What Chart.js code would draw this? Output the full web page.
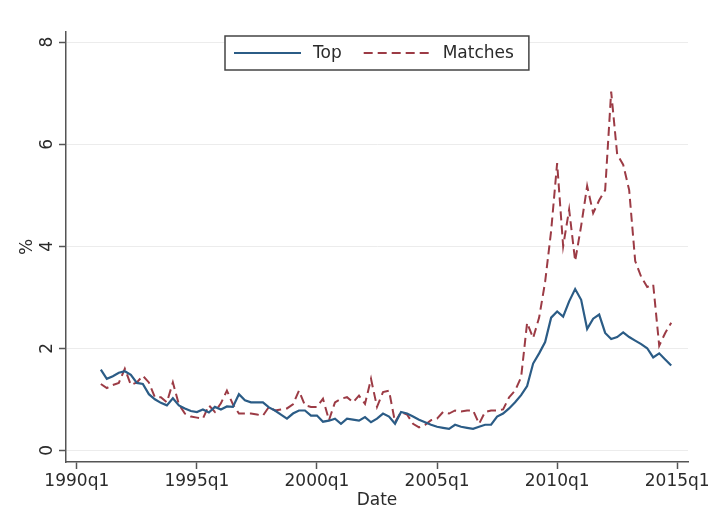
<!DOCTYPE html>
<html>
<head>
<meta charset="utf-8">
<script src="https://cdn.jsdelivr.net/npm/chart.js@4.4.1/dist/chart.umd.min.js"></script>
<style>
    html, body { margin: 0; padding: 0; background: #fff; }
    #wrap { width: 712px; height: 511px; }
</style>
</head>
<body>
<div id="wrap"><canvas id="chart" width="712" height="511"></canvas></div>
<script>
// Quarter index: 0 = 1990q1, series start at 1991q1
const firstQuarter = 4;

// Share (%) per quarter, 1991q1 .. 2014q4
const topShare = [
    1.58, 1.40, 1.45, 1.52,   // 1991
    1.55, 1.48, 1.32, 1.30,   // 1992
    1.10, 1.00, 0.93, 0.88,   // 1993
    1.02, 0.88, 0.82, 0.77,   // 1994
    0.75, 0.80, 0.74, 0.85,   // 1995
    0.80, 0.86, 0.85, 1.10,   // 1996
    0.98, 0.94, 0.94, 0.94,   // 1997
    0.84, 0.78, 0.70, 0.62,   // 1998
    0.72, 0.78, 0.78, 0.68,   // 1999
    0.68, 0.56, 0.58, 0.62,   // 2000
    0.52, 0.62, 0.60, 0.58,   // 2001
    0.65, 0.55, 0.62, 0.72,   // 2002
    0.66, 0.52, 0.75, 0.72,   // 2003
    0.66, 0.60, 0.55, 0.50,   // 2004
    0.46, 0.44, 0.42, 0.50,   // 2005
    0.46, 0.44, 0.42, 0.46,   // 2006
    0.50, 0.50, 0.66, 0.72,   // 2007
    0.82, 0.94, 1.08, 1.26,   // 2008
    1.70, 1.90, 2.12, 2.60,   // 2009
    2.72, 2.62, 2.92, 3.16,   // 2010
    2.95, 2.38, 2.58, 2.66,   // 2011
    2.30, 2.18, 2.22, 2.31,   // 2012
    2.22, 2.15, 2.08, 2.00,   // 2013
    1.82, 1.90, 1.78, 1.66    // 2014
];

const matchesShare = [
    1.30, 1.22, 1.28, 1.32,   // 1991
    1.60, 1.28, 1.33, 1.46,   // 1992
    1.33, 1.04, 1.04, 0.94,   // 1993
    1.33, 0.90, 0.72, 0.66,   // 1994
    0.64, 0.62, 0.88, 0.75,   // 1995
    0.92, 1.17, 0.90, 0.72,   // 1996
    0.72, 0.72, 0.70, 0.68,   // 1997
    0.85, 0.78, 0.80, 0.82,   // 1998
    0.90, 1.17, 0.88, 0.85,   // 1999
    0.85, 1.01, 0.59, 0.94,   // 2000
    1.01, 1.04, 0.94, 1.07,   // 2001
    0.91, 1.40, 0.85, 1.14,   // 2002
    1.17, 0.55, 0.75, 0.70,   // 2003
    0.52, 0.45, 0.50, 0.59,   // 2004
    0.62, 0.75, 0.72, 0.78,   // 2005
    0.76, 0.78, 0.78, 0.52,   // 2006
    0.75, 0.78, 0.78, 0.80,   // 2007
    1.04, 1.17, 1.43, 2.50,   // 2008
    2.20, 2.60, 3.30, 4.30,   // 2009
    5.63, 4.00, 4.72, 3.71,   // 2010
    4.40, 5.18, 4.65, 4.90,   // 2011
    5.10, 7.03, 5.80, 5.60,   // 2012
    5.10, 3.71, 3.40, 3.20,   // 2013
    3.25, 2.05, 2.30, 2.50    // 2014
];

const xTickValues = [0, 20, 40, 60, 80, 100];
const xTickLabels = ['1990q1', '1995q1', '2000q1', '2005q1', '2010q1', '2015q1'];
const yTickValues = [0, 2, 4, 6, 8];

const toPoints = (values) => values.map((v, i) => ({ x: firstQuarter + i, y: v }));

const textColor = '#2b2b2b';
const axisColor = '#555555';
const fontFamily = "'DejaVu Sans', sans-serif";
const legendFont = "17px 'DejaVu Sans', sans-serif";

// Stata-style legend: one framed row sitting inside the plot, near the top
const insideLegend = {
    id: 'insideLegend',
    afterDraw(chart) {
        const c = chart.ctx;
        const area = chart.chartArea;
        const sets = chart.data.datasets;
        c.save();
        c.font = legendFont;
        const lineLen = 67, textGap = 12, itemGap = 22, padL = 9, padR = 15;
        let total = padL + padR;
        sets.forEach((ds, i) => {
            total += lineLen + textGap + c.measureText(ds.label).width;
            if (i < sets.length - 1) total += itemGap;
        });
        const left = Math.round((area.left + area.right) / 2 - total / 2);
        const midY = 53;

        c.fillStyle = '#fff';
        c.fillRect(left, midY - 17, total, 34);
        c.strokeStyle = '#444';
        c.lineWidth = 1.5;
        c.strokeRect(left, midY - 17, total, 34);

        let x = left + padL;
        sets.forEach((ds) => {
            c.beginPath();
            c.setLineDash(ds.borderDash || []);
            c.strokeStyle = ds.borderColor;
            c.lineWidth = ds.borderWidth;
            c.moveTo(x, midY);
            c.lineTo(x + lineLen, midY);
            c.stroke();
            c.setLineDash([]);
            x += lineLen + textGap;
            c.fillStyle = textColor;
            c.textBaseline = 'middle';
            c.textAlign = 'left';
            c.fillText(ds.label, x, midY + 1);
            x += c.measureText(ds.label).width + itemGap;
        });
        c.restore();
    }
};

const ctx = document.getElementById('chart');
new Chart(ctx, {
    type: 'line',
    data: {
        datasets: [{
            label: 'Top',
            data: toPoints(topShare),
            borderColor: '#2b5c86',
            borderWidth: 2.2,
            pointRadius: 0,
            tension: 0
        }, {
            label: 'Matches',
            data: toPoints(matchesShare),
            borderColor: '#9c3b45',
            borderWidth: 2,
            borderDash: [9, 5],
            pointRadius: 0,
            tension: 0
        }]
    },
    options: {
        responsive: false,
        animation: false,
        layout: { padding: { top: 32, right: 20, bottom: 0, left: 0 } },
        plugins: {
            tooltip: { enabled: false },
            legend: { display: false }
        },
        scales: {
            x: {
                type: 'linear',
                min: -1.8,
                max: 101.8,
                afterBuildTicks: (scale) => {
                    scale.ticks = xTickValues.map(v => ({ value: v }));
                },
                afterFit: (scale) => { scale.height = 49; },
                ticks: {
                    autoSkip: false,
                    maxRotation: 0,
                    padding: 2,
                    color: textColor,
                    font: { family: fontFamily, size: 17 },
                    callback: (value) => xTickLabels[xTickValues.indexOf(value)]
                },
                grid: {
                    drawOnChartArea: false,
                    tickLength: 7,
                    tickColor: axisColor,
                    tickWidth: 1.5
                },
                border: { color: axisColor, width: 1.5 },
                title: {
                    display: true,
                    text: 'Date',
                    color: textColor,
                    padding: 0,
                    font: { family: fontFamily, size: 17 }
                }
            },
            y: {
                min: -0.23,
                max: 8.2,
                afterBuildTicks: (scale) => {
                    scale.ticks = yTickValues.map(v => ({ value: v }));
                },
                afterFit: (scale) => { scale.width = 66; },
                ticks: {
                    minRotation: 90,
                    maxRotation: 90,
                    crossAlign: 'center',
                    padding: 6,
                    color: textColor,
                    font: { family: fontFamily, size: 17 }
                },
                grid: {
                    color: '#ececec',
                    lineWidth: 1,
                    tickLength: 7,
                    tickColor: axisColor,
                    tickWidth: 1.5
                },
                border: { color: axisColor, width: 1.5 },
                title: {
                    display: true,
                    text: '%',
                    color: textColor,
                    padding: { top: 17, bottom: 0 },
                    font: { family: fontFamily, size: 17 }
                }
            }
        }
    },
    plugins: [insideLegend]
});
</script>
</body>
</html>
